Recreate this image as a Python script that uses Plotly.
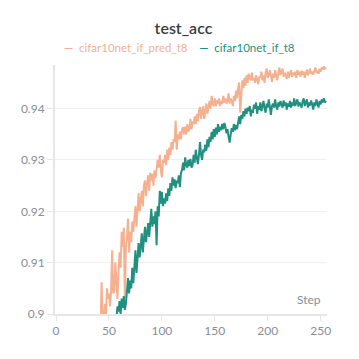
import plotly.graph_objects as go

# steps and accuracy values
pred_steps = list(range(38, 256))
pred_acc = [
    0.895, 0.897, 0.893, 0.898, 0.896,
    0.9062, 0.899, 0.897, 0.902, 0.898, 0.905, 0.903, 0.904, 0.9015, 0.9045,
    0.9124, 0.904, 0.9045, 0.910, 0.906, 0.903, 0.908, 0.912, 0.909, 0.916,
    0.913, 0.9168, 0.903, 0.913, 0.915, 0.9186, 0.912, 0.916, 0.914, 0.918,
    0.916, 0.919, 0.921, 0.917, 0.922, 0.9235, 0.920, 0.922, 0.924, 0.921,
    0.925, 0.926, 0.923, 0.9255, 0.927, 0.924, 0.9275, 0.926, 0.9273, 0.925,
    0.928, 0.9265, 0.929, 0.930, 0.9285, 0.931, 0.928, 0.9266, 0.930, 0.9295,
    0.931, 0.929, 0.932, 0.930, 0.9324, 0.931, 0.9335, 0.932, 0.934, 0.9335,
    0.9377, 0.932, 0.935, 0.934, 0.9355, 0.934, 0.936, 0.9364, 0.935, 0.9365,
    0.935, 0.937, 0.9355, 0.936, 0.938, 0.936, 0.9375, 0.937, 0.9385, 0.937,
    0.939, 0.9375, 0.9395, 0.9403, 0.938, 0.939, 0.9405, 0.938, 0.9395, 0.941,
    0.939, 0.9405, 0.9415, 0.940, 0.9425, 0.941, 0.9405, 0.942, 0.9405, 0.9416,
    0.941, 0.942, 0.9405, 0.9415, 0.941, 0.9425, 0.9412, 0.942, 0.941, 0.9415,
    0.943, 0.941, 0.942, 0.9415, 0.9405, 0.9425, 0.9415, 0.9435, 0.942, 0.944,
    0.9451, 0.9392, 0.944, 0.9455, 0.944, 0.946, 0.9445, 0.9465, 0.945, 0.9468,
    0.946, 0.9455, 0.947, 0.9455, 0.946, 0.945, 0.9465, 0.9455, 0.9448, 0.9462,
    0.946, 0.9472, 0.9455, 0.9465, 0.945, 0.947, 0.9478, 0.946, 0.9465, 0.9475,
    0.946, 0.9452, 0.9468, 0.946, 0.9475, 0.9465, 0.9455, 0.947, 0.948, 0.9465,
    0.9475, 0.9478, 0.9462, 0.947, 0.9465, 0.9458, 0.9472, 0.946, 0.9468, 0.9475,
    0.9462, 0.947, 0.9465, 0.9472, 0.946, 0.9475, 0.9468, 0.947, 0.9462, 0.9474,
    0.9466, 0.9472, 0.946, 0.9468, 0.9476, 0.9465, 0.947, 0.9478, 0.9468, 0.9472,
    0.9466, 0.9475, 0.948, 0.947, 0.9474, 0.9468, 0.9478, 0.9472, 0.948, 0.9476,
    0.9482, 0.9478, 0.948,
]

base_steps = list(range(52, 256))
base_acc = [
    0.896, 0.894, 0.897, 0.895, 0.898, 0.899,
    0.9015, 0.9005, 0.9025, 0.900, 0.903, 0.9012, 0.9035, 0.9008, 0.902, 0.9047,
    0.907, 0.904, 0.9065, 0.905, 0.909, 0.906, 0.9085, 0.9124, 0.908, 0.911,
    0.9138, 0.911, 0.913, 0.9157, 0.912, 0.915, 0.917, 0.914, 0.9165, 0.9177,
    0.915, 0.9185, 0.9205, 0.917, 0.919, 0.9175, 0.920, 0.9134, 0.921, 0.919,
    0.924, 0.9215, 0.9238, 0.921, 0.9225, 0.9215, 0.9235, 0.922, 0.9245, 0.923,
    0.9255, 0.924, 0.9266, 0.925, 0.9262, 0.9245, 0.926, 0.9255, 0.927, 0.9247,
    0.9275, 0.928, 0.9295, 0.928, 0.9305, 0.929, 0.9285, 0.930, 0.9288, 0.9302,
    0.9285, 0.929, 0.931, 0.9295, 0.932, 0.9305, 0.9292, 0.931, 0.9335, 0.931,
    0.930, 0.932, 0.9315, 0.933, 0.9318, 0.934, 0.9325, 0.9345, 0.9335, 0.9355,
    0.934, 0.936, 0.9345, 0.9363, 0.935, 0.937, 0.9355, 0.9365, 0.9358, 0.937,
    0.936, 0.9372, 0.9365, 0.9352, 0.936, 0.9345, 0.9334, 0.935, 0.9362, 0.9355,
    0.937, 0.9358, 0.9368, 0.936, 0.9372, 0.9385, 0.937, 0.9388, 0.938, 0.9395,
    0.9385, 0.940, 0.939, 0.9402, 0.9395, 0.9405, 0.9385, 0.9398, 0.9392, 0.9408,
    0.940, 0.9412, 0.939, 0.9405, 0.9398, 0.9412, 0.9395, 0.9404, 0.9415, 0.940,
    0.9392, 0.941, 0.9402, 0.9418, 0.9398, 0.9388, 0.9405, 0.941, 0.9402, 0.9418,
    0.9405, 0.9398, 0.9412, 0.9404, 0.9415, 0.9408, 0.9402, 0.9416, 0.9405, 0.9412,
    0.9398, 0.941, 0.9404, 0.9415, 0.9402, 0.9412, 0.9406, 0.942, 0.9405, 0.9412,
    0.9418, 0.9404, 0.9412, 0.9408, 0.9402, 0.9415, 0.942, 0.9405, 0.941, 0.9418,
    0.9402, 0.9412, 0.9406, 0.9416, 0.9408, 0.9398, 0.9412, 0.9405, 0.9418, 0.941,
    0.9402, 0.9415, 0.9408, 0.9418, 0.9412, 0.942, 0.9412, 0.9415,
]

y_ticks = [0.9, 0.91, 0.92, 0.93, 0.94]
x_ticks = [0, 50, 100, 150, 200, 250]

orange = '#F5B08F'
teal = '#22907F'
grey_txt = '#8a8d96'

fig = go.Figure()
fig.add_trace(go.Scatter(x=pred_steps, y=pred_acc, mode='lines',
                         line=dict(color=orange, width=2), name='cifar10net_if_pred_t8'))
fig.add_trace(go.Scatter(x=base_steps, y=base_acc, mode='lines',
                         line=dict(color=teal, width=2), name='cifar10net_if_t8'))

# page body has an 8px margin, so the figure is a bit smaller than the window
fig.update_layout(
    width=351, height=351,
    margin=dict(l=47, r=32, t=57, b=45),
    paper_bgcolor='white', plot_bgcolor='white',
    showlegend=False,
    font=dict(family='Lato', size=12, color=grey_txt),
    title=dict(text='test_acc', x=0.5, xanchor='center', y=1 - 20 / 351,
               yanchor='middle', font=dict(size=16, color='#3b3b42', family='Lato', weight=600)),
)

# legend drawn as a coloured text line, like the reference
fig.add_annotation(
    xref='paper', yref='paper', x=0.456, y=1.072, xanchor='center', yanchor='middle',
    showarrow=False, font=dict(size=11.5),
    text=(f"<span style='color:{orange}'><b>—</b>  cifar10net_if_pred_t8</span>"
          f"    <span style='color:{teal}'><b>—</b>  cifar10net_if_t8</span>"),
)
fig.add_annotation(xref='paper', yref='paper', x=0.985, y=0.02, xanchor='right',
                   yanchor='bottom', showarrow=False, text='Step',
                   font=dict(size=12, color=grey_txt))

fig.update_xaxes(range=[-1, 256], tickvals=x_ticks, showgrid=False, zeroline=False,
                 showline=True, linecolor='#e6e6e6', linewidth=2,
                 ticks='outside', ticklen=5, tickcolor='#e6e6e6', tickwidth=1)
fig.update_yaxes(range=[0.9, 0.9485], tickvals=y_ticks,
                 ticktext=['0.9', '0.91', '0.92', '0.93', '0.94'],
                 showgrid=True, gridcolor='#efefef', zeroline=False,
                 showline=True, linecolor='#e6e6e6', linewidth=2,
                 ticks='outside', ticklen=6, tickcolor='#e6e6e6', tickwidth=1)

fig.write_html("out.html")
